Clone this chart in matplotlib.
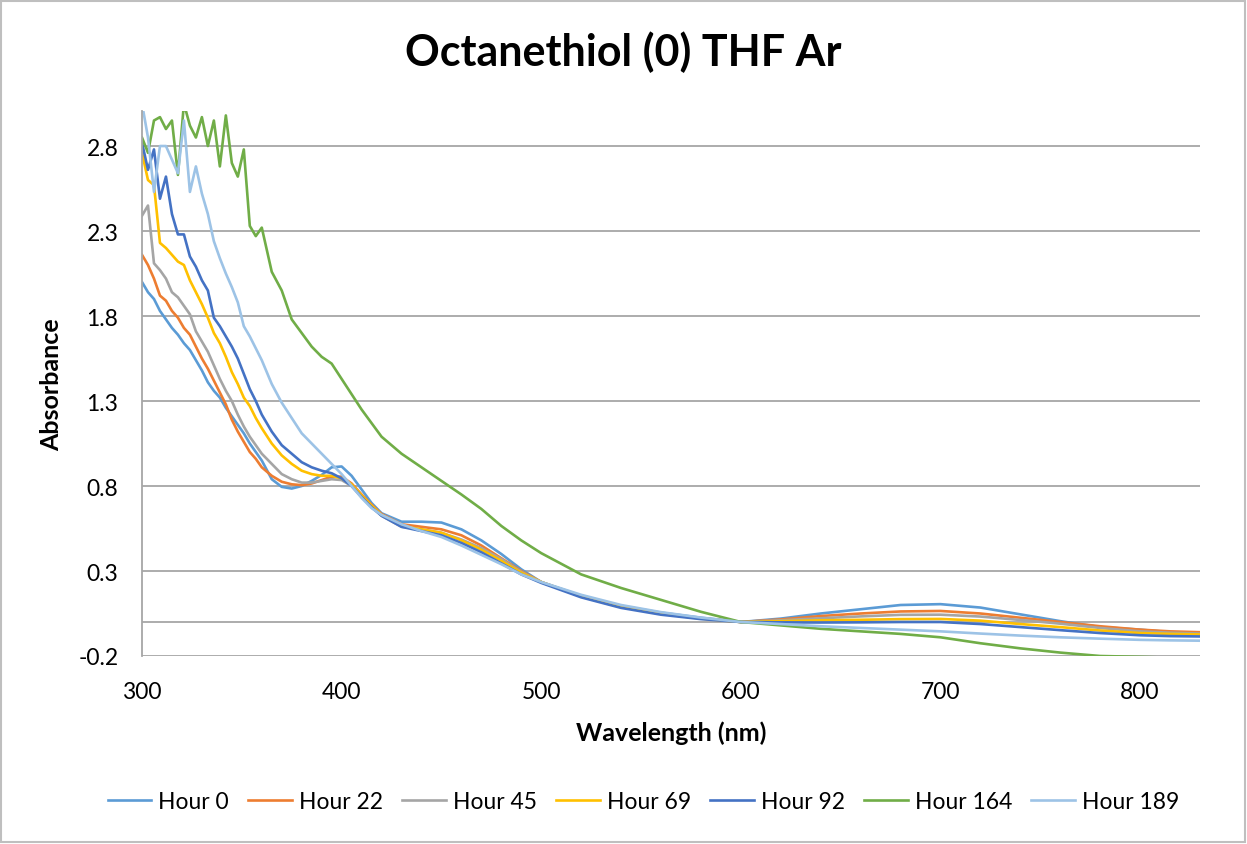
import matplotlib
matplotlib.use('Agg')
import matplotlib.pyplot as plt
from matplotlib.patches import Rectangle

plt.rcParams['font.family'] = ['Lato', 'DejaVu Sans']

# ---- data ----
wavelength = [300, 303, 306, 309, 312, 315, 318, 321, 324, 327, 330, 333, 336, 339, 342, 345, 348, 351, 354, 357, 360,
              365, 370, 375, 380, 385, 390, 395, 400, 405, 410, 415, 420,
              430, 440, 450, 460, 470, 480, 490, 500,
              520, 540, 560, 580, 600,
              620, 640, 660, 680, 700, 720, 740, 760, 780, 800, 815, 830]

hour_0 = [2.00, 1.94, 1.90, 1.83, 1.78, 1.73, 1.69, 1.64, 1.60, 1.54, 1.48, 1.41, 1.36, 1.32, 1.26, 1.21, 1.16, 1.11, 1.05, 1.00, 0.95,
          0.84, 0.795, 0.785, 0.80, 0.83, 0.865, 0.91, 0.915, 0.86, 0.78, 0.70, 0.64,
          0.59, 0.59, 0.585, 0.545, 0.48, 0.40, 0.31, 0.235,
          0.155, 0.095, 0.055, 0.025, 0.0,
          0.02, 0.05, 0.075, 0.10, 0.105, 0.085, 0.045, 0.005, -0.03, -0.045, -0.06, -0.065]

hour_22 = [2.16, 2.10, 2.02, 1.92, 1.89, 1.83, 1.79, 1.73, 1.69, 1.62, 1.55, 1.49, 1.42, 1.35, 1.28, 1.19, 1.12, 1.06, 1.00, 0.96, 0.91,
           0.86, 0.825, 0.81, 0.805, 0.815, 0.835, 0.855, 0.855, 0.815, 0.75, 0.69, 0.635,
           0.575, 0.56, 0.545, 0.51, 0.45, 0.375, 0.30, 0.235,
           0.15, 0.09, 0.05, 0.022, 0.0,
           0.015, 0.035, 0.05, 0.062, 0.065, 0.05, 0.025, 0.0, -0.025, -0.045, -0.055, -0.06]

hour_45 = [2.39, 2.45, 2.11, 2.07, 2.02, 1.94, 1.91, 1.86, 1.81, 1.71, 1.65, 1.59, 1.51, 1.43, 1.36, 1.30, 1.22, 1.15, 1.09, 1.04, 0.99,
           0.93, 0.87, 0.84, 0.82, 0.82, 0.83, 0.84, 0.835, 0.80, 0.74, 0.68, 0.625,
           0.56, 0.545, 0.525, 0.485, 0.435, 0.37, 0.295, 0.235,
           0.15, 0.09, 0.05, 0.022, 0.0,
           0.01, 0.022, 0.033, 0.042, 0.043, 0.032, 0.012, -0.01, -0.035, -0.055, -0.063, -0.068]

hour_69 = [2.76, 2.60, 2.57, 2.23, 2.20, 2.16, 2.12, 2.10, 2.01, 1.94, 1.87, 1.79, 1.70, 1.64, 1.56, 1.47, 1.40, 1.32, 1.27, 1.20, 1.14,
           1.05, 0.98, 0.93, 0.89, 0.87, 0.86, 0.86, 0.845, 0.81, 0.745, 0.685, 0.63,
           0.565, 0.545, 0.525, 0.48, 0.425, 0.36, 0.29, 0.235,
           0.15, 0.088, 0.048, 0.02, 0.0,
           0.005, 0.01, 0.013, 0.017, 0.018, 0.008, -0.012, -0.03, -0.05, -0.065, -0.07, -0.073]

hour_92 = [2.82, 2.66, 2.78, 2.49, 2.62, 2.40, 2.28, 2.28, 2.15, 2.09, 2.01, 1.95, 1.79, 1.74, 1.68, 1.62, 1.55, 1.46, 1.37, 1.30, 1.22,
           1.12, 1.04, 0.99, 0.94, 0.91, 0.89, 0.875, 0.845, 0.80, 0.735, 0.675, 0.625,
           0.56, 0.535, 0.51, 0.465, 0.41, 0.345, 0.28, 0.23,
           0.145, 0.083, 0.043, 0.017, 0.0,
           -0.002, -0.003, -0.002, 0.0, 0.0, -0.012, -0.03, -0.048, -0.065, -0.078, -0.083, -0.085]

hour_164 = [2.85, 2.76, 2.95, 2.97, 2.90, 2.95, 2.63, 3.05, 2.92, 2.85, 2.97, 2.80, 2.95, 2.68, 2.98, 2.70, 2.62, 2.78, 2.33, 2.27, 2.32,
            2.06, 1.95, 1.78, 1.70, 1.62, 1.56, 1.52, 1.43, 1.34, 1.25, 1.17, 1.09,
            0.99, 0.91, 0.83, 0.75, 0.665, 0.565, 0.48, 0.405,
            0.28, 0.20, 0.13, 0.06, 0.0,
            -0.02, -0.04, -0.055, -0.07, -0.09, -0.125, -0.155, -0.18, -0.2, -0.205, -0.21, -0.212]

hour_189 = [3.05, 2.85, 2.53, 2.80, 2.80, 2.72, 2.64, 2.95, 2.53, 2.68, 2.52, 2.40, 2.24, 2.14, 2.05, 1.97, 1.88, 1.74, 1.68, 1.61, 1.54,
            1.40, 1.29, 1.20, 1.11, 1.05, 0.99, 0.93, 0.87, 0.80, 0.73, 0.67, 0.63,
            0.575, 0.535, 0.50, 0.45, 0.395, 0.34, 0.28, 0.235,
            0.16, 0.10, 0.058, 0.026, 0.0,
            -0.012, -0.025, -0.035, -0.045, -0.055, -0.068, -0.08, -0.09, -0.098, -0.105, -0.108, -0.11]

series = [hour_0, hour_22, hour_45, hour_69, hour_92, hour_164, hour_189]
labels = ['Hour 0', 'Hour 22', 'Hour 45', 'Hour 69', 'Hour 92', 'Hour 164', 'Hour 189']
colors = ['#5B9BD5', '#ED7D31', '#A5A5A5', '#FFC000', '#4472C4', '#70AD47', '#9DC3E6']

y_ticks = [-0.2, 0.3, 0.8, 1.3, 1.8, 2.3, 2.8]
x_ticks = [300, 400, 500, 600, 700, 800]

grid_color = '#A6A6A6'

fig = plt.figure(figsize=(12.47, 8.45), dpi=100)
ax = fig.add_axes([142 / 1247, 1 - 657 / 845, 1058 / 1247, 545 / 845])

for vals, lab, col in zip(series, labels, colors):
    ax.plot(wavelength, vals, color=col, lw=1.9, label=lab, solid_joinstyle='round')

ax.set_xlim(300, 830)
ax.set_ylim(-0.2, 3.006)
ax.set_yticks(y_ticks)
ax.set_yticklabels(['%.1f' % v for v in y_ticks])
ax.set_xticks(x_ticks)
ax.tick_params(axis='both', length=0, labelsize=16.5, colors='black')
ax.tick_params(axis='y', pad=17)
ax.tick_params(axis='x', pad=18)

ax.grid(axis='y', color=grid_color, lw=1.3)
ax.set_axisbelow(True)
ax.axhline(0, color=grid_color, lw=1.3, zorder=0.5)
for s in ['top', 'right', 'bottom']:
    ax.spines[s].set_visible(False)
ax.spines['left'].set_color(grid_color)
ax.spines['left'].set_linewidth(1.3)

fig.text(0.5, 1 - 52 / 845, 'Octanethiol (0) THF Ar', ha='center', va='center',
         fontsize=31, fontweight='bold')
fig.text(671 / 1247, 1 - 733 / 845, 'Wavelength (nm)', ha='center', va='center',
         fontsize=18, fontweight='bold')
fig.text(52 / 1247, 1 - 385 / 845, 'Absorbance', ha='center', va='center',
         fontsize=18, fontweight='bold', rotation=90)

fig.legend(loc='center', bbox_to_anchor=(0.516, 1 - 803 / 845), ncol=7, frameon=False,
           fontsize=16.5, handlelength=1.9, handletextpad=0.3, columnspacing=0.85)

# chart area border
fig.patches.append(Rectangle((0.001, 0.002), 0.997, 0.996, transform=fig.transFigure,
                             fill=False, edgecolor='#BFBFBF', lw=1.5))

fig.savefig('out.png', dpi=100)
